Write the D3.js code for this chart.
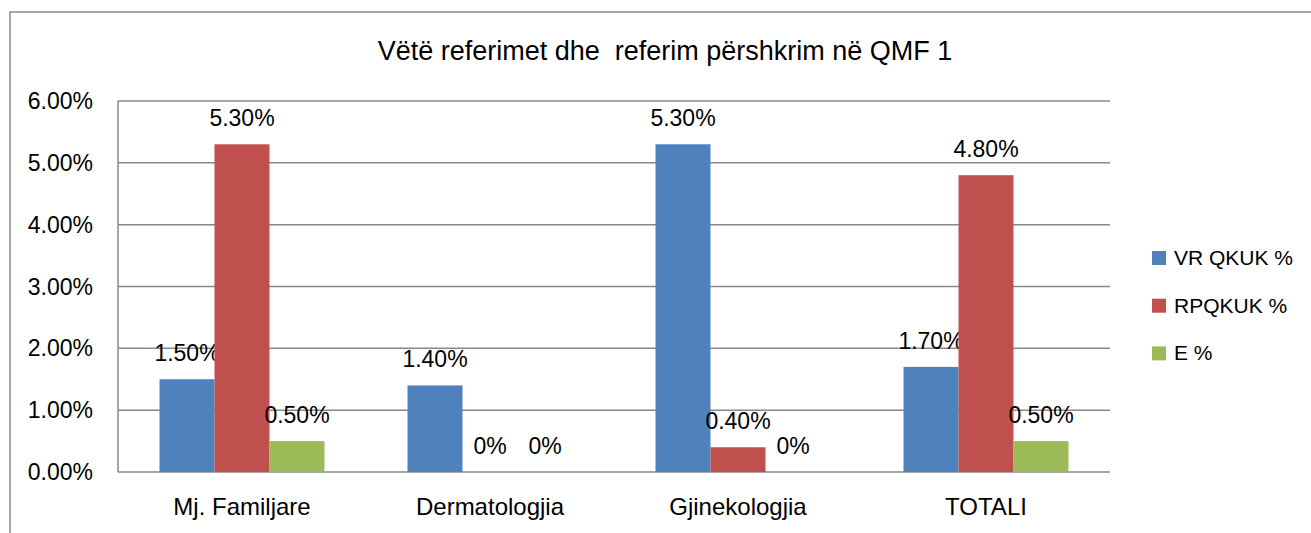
<!DOCTYPE html>
<html>
<head>
<meta charset="utf-8">
<script src="https://cdn.jsdelivr.net/npm/d3@7"></script>
<style>
  body { margin: 0; background: #fff; }
  svg { display: block; font-family: 'Liberation Sans', Arial, sans-serif; }
</style>
</head>
<body>
<svg id="chart" width="1311" height="533"></svg>
<script>
const categories = ['Mj. Familjare', 'Dermatologjia', 'Gjinekologjia', 'TOTALI']
const seriesNames = ['VR QKUK %', 'RPQKUK %', 'E %']
const vrValues = [0.015, 0.014, 0.053, 0.017]
const rpValues = [0.053, 0, 0.004, 0.048]
const eValues = [0.005, 0, 0, 0.005]
const yTicks = [0, 0.01, 0.02, 0.03, 0.04, 0.05, 0.06]
const colors = ['#4F81BD', '#C0504D', '#9BBB59']
const title = 'Vëtë referimet dhe\u00a0 referim përshkrim në QMF 1'

const seriesValues = [vrValues, rpValues, eValues]

const svg = d3.select('#chart')
const plot = { left: 118, right: 1110, top: 101, bottom: 472 }

// outer chart frame
svg.append('rect')
  .attr('x', 10).attr('y', 12)
  .attr('width', 1320).attr('height', 540)
  .attr('fill', 'none')
  .attr('stroke', '#8a8a8a')
  .attr('stroke-width', 1.5)

svg.append('text')
  .attr('x', 665).attr('y', 60)
  .attr('text-anchor', 'middle')
  .attr('font-size', 27)
  .attr('fill', '#000')
  .text(title)

const x = d3.scaleBand().domain(categories).range([plot.left, plot.right])
const y = d3.scaleLinear().domain([0, 0.06]).range([plot.bottom, plot.top])

// gridlines
svg.append('g')
  .selectAll('line')
  .data(yTicks)
  .join('line')
  .attr('x1', plot.left).attr('x2', plot.right)
  .attr('y1', d => y(d)).attr('y2', d => y(d))
  .attr('stroke', '#888')
  .attr('stroke-width', 1.5)

svg.append('line')
  .attr('x1', plot.left).attr('x2', plot.left)
  .attr('y1', plot.top).attr('y2', plot.bottom)
  .attr('stroke', '#888')
  .attr('stroke-width', 1.5)

svg.append('g')
  .selectAll('text')
  .data(yTicks)
  .join('text')
  .attr('x', 93)
  .attr('y', d => y(d) + 8)
  .attr('text-anchor', 'end')
  .attr('font-size', 23)
  .text(d3.format('.2%'))

// bars
const barWidth = 55
const groupOffset = (x.bandwidth() - barWidth * 3) / 2
seriesValues.forEach(function (vals, s) {
  const g = svg.append('g')
  g.selectAll('rect')
    .data(vals)
    .join('rect')
    .attr('x', (d, i) => x(categories[i]) + groupOffset + s * barWidth)
    .attr('y', d => y(d))
    .attr('width', barWidth)
    .attr('height', d => plot.bottom - y(d))
    .attr('fill', colors[s])
  g.selectAll('text')
    .data(vals)
    .join('text')
    .attr('x', (d, i) => x(categories[i]) + groupOffset + (s + 0.5) * barWidth)
    .attr('y', d => y(d) - 18)
    .attr('text-anchor', 'middle')
    .attr('font-size', 23)
    .text(d => d === 0 ? '0%' : d3.format('.2%')(d))
})

// category labels
svg.append('g')
  .selectAll('text')
  .data(categories)
  .join('text')
  .attr('x', d => x(d) + x.bandwidth() / 2)
  .attr('y', 515)
  .attr('text-anchor', 'middle')
  .attr('font-size', 24)
  .text(d => d)

// legend
const legend = svg.append('g')
seriesNames.forEach(function (name, i) {
  const ly = 251 + i * 47.7
  legend.append('rect')
    .attr('x', 1152).attr('y', ly)
    .attr('width', 14).attr('height', 14)
    .attr('fill', colors[i])
  legend.append('text')
    .attr('x', 1174).attr('y', ly + 14)
    .attr('font-size', 21)
    .text(name)
})
</script>
</body>
</html>
